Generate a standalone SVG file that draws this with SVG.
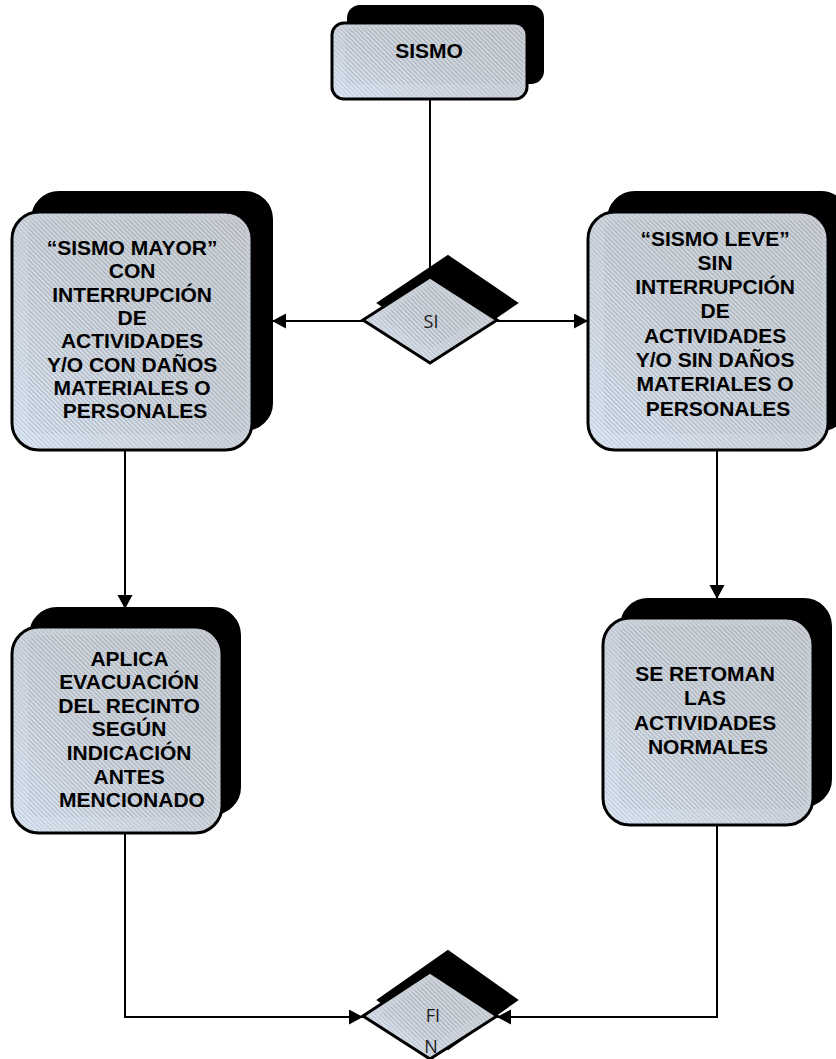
<svg xmlns="http://www.w3.org/2000/svg" width="836" height="1059" viewBox="0 0 836 1059">
<defs>
<linearGradient id="fillGrad" x1="0" y1="1" x2="1" y2="0">
<stop offset="0" stop-color="#dbe7f5"/>
<stop offset="0.45" stop-color="#cfd6df"/>
<stop offset="1" stop-color="#cbd0d6"/>
</linearGradient>
<pattern id="hatch" width="3.2" height="3.2" patternUnits="userSpaceOnUse" patternTransform="rotate(45)">
<line x1="0" y1="0.5" x2="3.2" y2="0.5" stroke="#6f757c" stroke-width="0.8"/>
</pattern>
<marker id="arrow" markerUnits="userSpaceOnUse" markerWidth="16" markerHeight="16" refX="14" refY="7.5" orient="auto">
<path d="M0,0 L14,7.5 L0,15 z" fill="#000"/>
</marker>
<style>
.shadow{fill:#000;stroke:#000;stroke-width:2}
.main{fill:url(#fillGrad);stroke:#000;stroke-width:3}
.hatch{fill:url(#hatch);opacity:0.28}
.hatch2{fill:url(#hatch);opacity:0.25}
.lbl{font-family:"Liberation Sans",Arial,sans-serif;font-weight:bold;font-size:21px;fill:#000;text-anchor:middle}
.dlbl{font-family:"Open Sans","Liberation Sans",sans-serif;font-size:18px;fill:#1a1a1a;text-anchor:middle}
.conn{fill:none;stroke:#000;stroke-width:2}
</style>
</defs>
<rect width="836" height="1059" fill="#fff"/>

<g id="connectors">
<path class="conn" d="M430,99 V290"/>
<path class="conn" d="M363,321 H272" marker-end="url(#arrow)"/>
<path class="conn" d="M497,321 H588" marker-end="url(#arrow)"/>
<path class="conn" d="M125,451 V609" marker-end="url(#arrow)"/>
<path class="conn" d="M717,451 V599" marker-end="url(#arrow)"/>
<path class="conn" d="M125,834 V1017 H363" marker-end="url(#arrow)"/>
<path class="conn" d="M717,826 V1017 H497" marker-end="url(#arrow)"/>
</g>

<g id="sismo">
<rect class="shadow" x="348" y="6" width="195" height="77" rx="12"/>
<rect class="main" x="332" y="23" width="195" height="76" rx="12"/>
<rect class="hatch" x="333" y="24" width="193" height="74" rx="11"/>
<rect class="hatch2" x="345" y="28" width="178" height="56" rx="6"/>
<text class="lbl" x="429" y="58">SISMO</text>
</g>

<g id="si">
<polygon class="shadow" points="448,256 517,303 448,350 378,303"/>
<polygon class="main" points="430,277 497,320 430,363 363,320"/>
<polygon class="hatch" points="430,279 494,320 430,361 366,320"/>
<polygon class="hatch2" points="430,285 480,318 430,350 380,318"/>
<text class="dlbl" x="431" y="328">SI</text>
</g>

<g id="sismo-mayor">
<rect class="shadow" x="32" y="192" width="240" height="238" rx="27"/>
<rect class="main" x="12" y="212" width="240" height="238" rx="27"/>
<rect class="hatch" x="13" y="213" width="238" height="236" rx="26"/>
<rect class="hatch2" x="28" y="220" width="218" height="214" rx="10"/>
<text class="lbl" x="135">
<tspan x="135" y="255">“SISMO MAYOR”</tspan>
<tspan x="135" y="278.3">CON</tspan>
<tspan x="135" y="301.6">INTERRUPCIÓN</tspan>
<tspan x="135" y="324.9">DE</tspan>
<tspan x="135" y="348.2">ACTIVIDADES</tspan>
<tspan x="135" y="371.5">Y/O CON DAÑOS</tspan>
<tspan x="135" y="394.8">MATERIALES O</tspan>
<tspan x="135" y="418.1">PERSONALES</tspan>
</text>
</g>

<g id="sismo-leve">
<rect class="shadow" x="608" y="192" width="240" height="238" rx="27"/>
<rect class="main" x="588" y="212" width="240" height="238" rx="27"/>
<rect class="hatch" x="589" y="213" width="238" height="236" rx="26"/>
<rect class="hatch2" x="604" y="220" width="218" height="214" rx="10"/>
<text class="lbl" x="718">
<tspan x="718" y="245.5">“SISMO LEVE”</tspan>
<tspan x="718" y="269.8">SIN</tspan>
<tspan x="718" y="294.1">INTERRUPCIÓN</tspan>
<tspan x="718" y="318.4">DE</tspan>
<tspan x="718" y="342.7">ACTIVIDADES</tspan>
<tspan x="718" y="367">Y/O SIN DAÑOS</tspan>
<tspan x="718" y="391.3">MATERIALES O</tspan>
<tspan x="718" y="415.6">PERSONALES</tspan>
</text>
</g>

<g id="aplica">
<rect class="shadow" x="30" y="608" width="210" height="206" rx="27"/>
<rect class="main" x="12" y="627" width="210" height="206" rx="27"/>
<rect class="hatch" x="13" y="628" width="208" height="204" rx="26"/>
<rect class="hatch2" x="28" y="635" width="188" height="182" rx="10"/>
<text class="lbl" x="132">
<tspan x="132" y="665.5">APLICA</tspan>
<tspan x="132" y="689.1">EVACUACIÓN</tspan>
<tspan x="132" y="712.7">DEL RECINTO</tspan>
<tspan x="132" y="736.3">SEGÚN</tspan>
<tspan x="132" y="759.9">INDICACIÓN</tspan>
<tspan x="132" y="783.5">ANTES</tspan>
<tspan x="132" y="807.1">MENCIONADO</tspan>
</text>
</g>

<g id="retoman">
<rect class="shadow" x="621" y="599" width="210" height="207" rx="27"/>
<rect class="main" x="603" y="618" width="210" height="207" rx="27"/>
<rect class="hatch" x="604" y="619" width="208" height="205" rx="26"/>
<rect class="hatch2" x="619" y="626" width="188" height="183" rx="10"/>
<text class="lbl" x="708">
<tspan x="708" y="680.5">SE RETOMAN</tspan>
<tspan x="708" y="705">LAS</tspan>
<tspan x="708" y="729.5">ACTIVIDADES</tspan>
<tspan x="708" y="754">NORMALES</tspan>
</text>
</g>

<g id="fin">
<polygon class="shadow" points="448,951 517,1000 448,1049 378,1000"/>
<polygon class="main" points="430,972 497,1016 430,1059 363,1016"/>
<polygon class="hatch" points="430,974 494,1016 430,1057 366,1016"/>
<polygon class="hatch2" points="430,980 480,1014 430,1046 380,1014"/>
<text class="dlbl" x="433" y="1022">FI</text>
<text class="dlbl" x="431" y="1053">N</text>
</g>
</svg>
